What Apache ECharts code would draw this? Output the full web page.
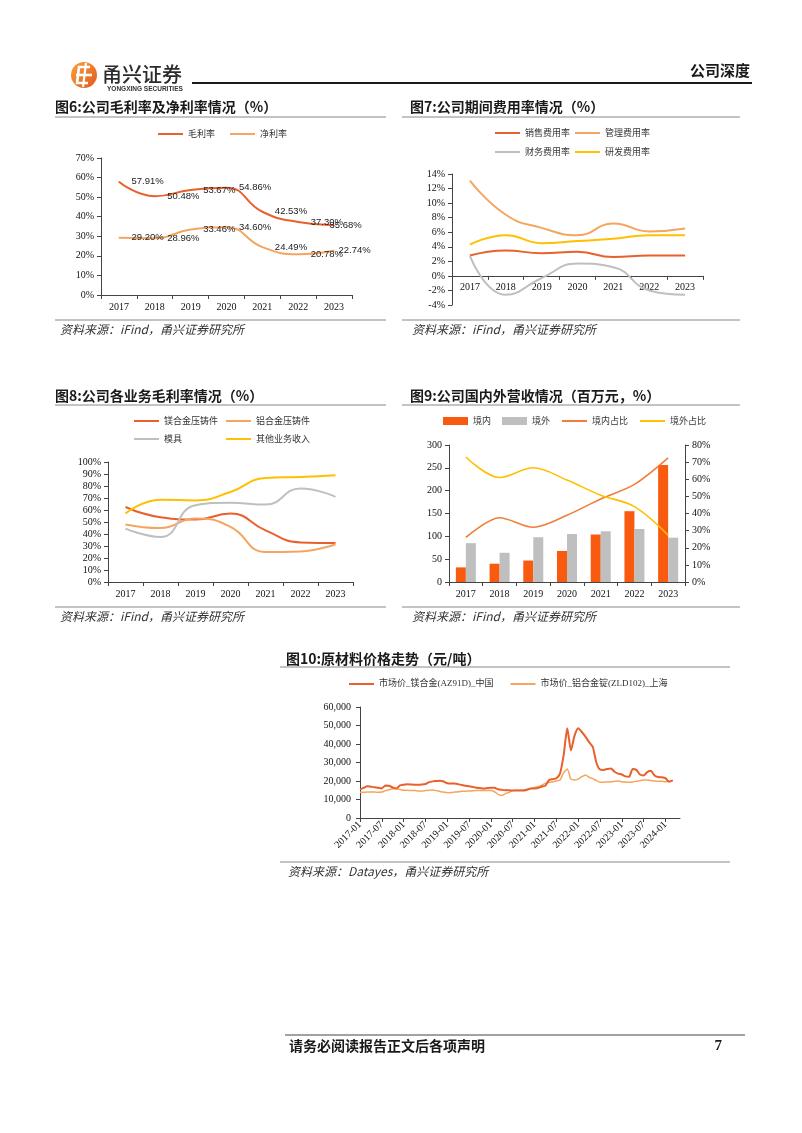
<!DOCTYPE html>
<html>
<head>
<meta charset="utf-8">
<script src="https://cdn.jsdelivr.net/npm/echarts@6/dist/echarts.min.js"></script>
<style>
html,body{margin:0;padding:0;background:#fff;}
#page{width:802px;height:1133px;}
</style>
</head>
<body>
<div id="page"></div>
<script>
// ---------- data ----------
const years = ['2017','2018','2019','2020','2021','2022','2023'];
// Fig 6
const grossMargin = [57.91, 50.48, 53.67, 54.86, 42.53, 37.30, 35.68];
const netMargin   = [29.20, 28.96, 33.46, 34.60, 24.49, 20.78, 22.74];
// Fig 7
const sellRate  = [2.8, 3.5, 3.1, 3.3, 2.6, 2.8, 2.8];
const adminRate = [13.1, 8.4, 6.6, 5.6, 7.2, 6.1, 6.5];
const finRate   = [2.7, -2.6, -0.3, 1.7, 1.2, -2.0, -2.6];
const rdRate    = [4.3, 5.6, 4.5, 4.8, 5.1, 5.6, 5.6];
// Fig 8
const mgCastMargin = [62.5, 54, 52, 57, 43, 33, 32.5];
const alCastMargin = [48, 45, 53, 46, 25, 25.5, 31.5];
const moldMargin   = [44.5, 37.5, 64, 66, 64.5, 78, 71];
const otherMargin  = [57, 68.6, 68, 75, 86.7, 87.5, 89];
// Fig 9
const domesticRev   = [32, 40, 47, 68, 104, 155, 256];
const overseasRev   = [85, 64, 98, 105, 111, 116, 97];
const domesticShare = [26, 37.5, 32, 39, 48.5, 57, 72.5];
const overseasShare = [73, 61, 66.7, 59.5, 50.7, 44, 27.3];
// Fig 10
const priceMonths = [];
for (let y = 2017; y <= 2024; y++) {
  for (let m = 1; m <= 12; m++) {
    if (y === 2024 && m > 5) break;
    priceMonths.push(y + '-' + String(m).padStart(2, '0'));
  }
}
const mgPrice = [15500,16300,17200,16900,16600,16400,16000,17600,17400,16500,16000,17600,
  18000,18200,18100,18000,18000,18100,18400,19400,19800,20000,20200,19700,
  18800,18600,18700,18300,17800,17400,17200,16800,16400,16200,16000,16200,
  16400,16300,15500,15200,15000,15000,14800,14800,14800,14800,15300,16000,
  16000,16200,17000,17500,20500,21000,21500,24000,34000,48500,36500,44500,
  48500,46500,44000,41000,38500,30000,26200,26000,26500,26800,25000,24000,
  23500,22500,22300,26500,26000,23500,23000,24800,25500,23000,22200,22000,
  21500,19600,20300];
const alPrice = [13900,13900,14000,14000,14000,13900,14000,14800,15300,15800,15800,15400,
  15000,15000,14800,14800,14600,14600,14800,15000,15100,14800,14300,14000,
  13700,13800,14000,14200,14400,14500,14600,14700,14800,14800,14800,14800,
  14800,14200,12800,12200,13200,13800,14800,15000,15000,15100,15500,16000,
  16500,17000,17800,18700,19300,19600,20000,20500,24500,26500,21000,20600,
  21000,22300,23200,22000,21300,20200,19300,19400,19500,19600,19800,20000,
  19600,19400,19300,19500,19800,20200,20500,20500,20300,20000,19900,19800,
  19600,19800,20300];

// ---------- styles ----------
const C_DARK = '#E8602C', C_LIGHT = '#F5A55F', C_GRAY = '#BFBFBF', C_YEL = '#FFC000';
const AX = '#444';
const SERIF = 'Liberation Serif';
const CJK = '"Noto Sans CJK SC"';

function catAxis(gi, data, extra) {
  return Object.assign({
    type: 'category', gridIndex: gi, data: data, boundaryGap: true,
    axisLine: { show: true, lineStyle: { color: AX, width: 1 } },
    axisTick: { show: true, length: 4, lineStyle: { color: AX } },
    axisLabel: { color: '#111', fontFamily: SERIF, fontSize: 10, margin: 7 },
    splitLine: { show: false }
  }, extra || {});
}
function valAxis(gi, min, max, interval, fmt, extra) {
  return Object.assign({
    type: 'value', gridIndex: gi, min: min, max: max, interval: interval,
    axisLine: { show: true, lineStyle: { color: AX, width: 1 } },
    axisTick: { show: true, length: 4, lineStyle: { color: AX } },
    axisLabel: { color: '#111', fontFamily: SERIF, fontSize: 10, margin: 7, formatter: fmt },
    splitLine: { show: false }
  }, extra || {});
}
function lineS(name, data, color, xi, yi, extra) {
  return Object.assign({
    name: name, type: 'line', data: data, xAxisIndex: xi, yAxisIndex: yi,
    smooth: true, symbol: 'none', lineStyle: { color: color, width: 2 },
    itemStyle: { color: color }, z: 3
  }, extra || {});
}
const legTxt = { fontFamily: CJK, fontSize: 9, color: '#333', lineHeight: 10 };
function leg(names, left, top, gap, extra) {
  return Object.assign({
    data: names, left: left, top: top, itemGap: gap, itemWidth: 25, itemHeight: 10,
    textStyle: legTxt, selectedMode: false, padding: 0,
    itemStyle: { opacity: 0 }
  }, extra || {});
}

// fig6 labels (last label nudged left, as in the source)
const lastShiftGross = -17, lastShiftNet = -8;
function labeled(arr, lastShift) {
  return arr.map((v, i) => i === arr.length - 1
    ? { value: v, label: { offset: [lastShift, 0] } } : v);
}
const lab6 = {
  show: true, position: 'right', distance: 12,
  formatter: p => Number(p.value).toFixed(2) + '%',
  fontFamily: 'Liberation Sans', fontSize: 9.5, color: '#222'
};

// ---------- graphics ----------
function txt(x, y, text, font, extra) {
  return { type: 'text', x: x, y: y, z: 10,
    style: Object.assign({ text: text, font: font, fill: '#1a1a1a', align: 'left', verticalAlign: 'middle' }, extra || {}) };
}
function hl(x1, x2, y, color, w) {
  return { type: 'line', z: 10, shape: { x1: x1, y1: y, x2: x2, y2: y }, style: { stroke: color || '#888', lineWidth: w || 1 } };
}
const titleFont = 'bold 14px ' + CJK;
const srcFont = 'italic 12px ' + CJK;

const graphics = [
  // logo
  { type: 'circle', z: 10, shape: { cx: 84, cy: 75, r: 13 },
    style: { fill: new echarts.graphic.LinearGradient(0, 0, 1, 1, [{offset:0,color:'#F7A33B'},{offset:1,color:'#E4571E'}]) } },
  { type: 'polyline', z: 11, shape: { points: [[90,67],[79,67],[77,83],[88,83]] }, style: { stroke: '#fff', lineWidth: 2.6, fill: null } },
  { type: 'line', z: 11, shape: { x1: 76, y1: 75, x2: 92, y2: 75 }, style: { stroke: '#fff', lineWidth: 2.6 } },
  { type: 'line', z: 11, shape: { x1: 86, y1: 63, x2: 83, y2: 87 }, style: { stroke: '#fff', lineWidth: 2.2 } },
  txt(102, 74, '甬兴证券', '500 20px ' + CJK, { fill: '#2b2b2b' }),
  txt(107, 89, 'YONGXING SECURITIES', 'bold 6.5px "Liberation Sans"', { fill: '#333' }),
  hl(192, 752, 83, '#1a1a1a', 2),
  txt(750, 70, '公司深度', 'bold 15px ' + CJK, { align: 'right' }),

  // fig 6
  txt(55, 107, '图6:公司毛利率及净利率情况（%）', titleFont),
  hl(55, 386, 117),
  hl(55, 386, 320),
  txt(60, 329, '资料来源：iFind，甬兴证券研究所', srcFont, { fill: '#333' }),
  // fig 7
  txt(410, 107, '图7:公司期间费用率情况（%）', titleFont),
  hl(402, 740, 117),
  hl(402, 740, 320),
  txt(412, 329, '资料来源：iFind，甬兴证券研究所', srcFont, { fill: '#333' }),
  // fig 8
  txt(55, 396, '图8:公司各业务毛利率情况（%）', titleFont),
  hl(55, 386, 405),
  hl(55, 386, 607),
  txt(60, 616, '资料来源：iFind，甬兴证券研究所', srcFont, { fill: '#333' }),
  // fig 9
  txt(410, 396, '图9:公司国内外营收情况（百万元，%）', titleFont),
  hl(402, 740, 405),
  hl(402, 740, 607),
  txt(412, 616, '资料来源：iFind，甬兴证券研究所', srcFont, { fill: '#333' }),
  // fig 10
  txt(286, 659, '图10:原材料价格走势（元/吨）', titleFont),
  hl(280, 730, 667),
  hl(280, 730, 862),
  txt(288, 871, '资料来源：Datayes，甬兴证券研究所', srcFont, { fill: '#333' }),
  // footer
  hl(285, 745, 1035, '#444', 1),
  txt(289, 1046, '请务必阅读报告正文后各项声明', 'bold 14px ' + CJK),
  txt(722, 1046, '7', 'bold 15px ' + SERIF, { align: 'right' })
];

// fig 7 x-axis sits on the zero line
const g7Top = 174, g7H = 131, y7Min = -4, y7Max = 14;
const zeroOffset7 = -(g7H * (0 - y7Min) / (y7Max - y7Min));

// ---------- option ----------
const option = {
  backgroundColor: '#fff',
  animation: false,
  graphic: graphics,
  grid: [
    { left: 101, top: 158, width: 251, height: 137 },
    { left: 452, top: g7Top, width: 251, height: g7H },
    { left: 108, top: 462, width: 245, height: 120 },
    { left: 449, top: 445, width: 236, height: 137 },
    { left: 360, top: 707, width: 320, height: 111 }
  ],
  legend: [
    leg(['毛利率', '净利率'], 157, 129, 14),
    leg(['销售费用率', '管理费用率'], 494, 128, 4),
    leg(['财务费用率', '研发费用率'], 494, 147, 4),
    leg(['镁合金压铸件', '铝合金压铸件'], 133, 416, 7),
    leg(['模具', '其他业务收入'], 133, 434, 43),
    leg([{ name: '境内', icon: 'rect', itemStyle: { opacity: 1 } },
         { name: '境外', icon: 'rect', itemStyle: { opacity: 1 } }, '境内占比', '境外占比'], 443, 416, 11, { itemHeight: 8 }),
    leg(['市场价_镁合金(AZ91D)_中国', '市场价_铝合金锭(ZLD102)_上海'], 348, 679, 16,
      { textStyle: Object.assign({}, legTxt, { fontFamily: SERIF + ',' + CJK }) })
  ],
  xAxis: [
    catAxis(0, years),
    catAxis(1, years, {
      offset: zeroOffset7,
      axisLine: { show: true, onZero: false, lineStyle: { color: AX, width: 1 } },
      axisLabel: { color: '#111', fontFamily: SERIF, fontSize: 10, margin: 6 }
    }),
    catAxis(2, years),
    catAxis(3, years),
    catAxis(4, priceMonths, {
      boundaryGap: false,
      axisTick: { show: true, length: 4, interval: 5, lineStyle: { color: AX } },
      axisLabel: { color: '#111', fontFamily: SERIF, fontSize: 10, margin: 5, rotate: 45, interval: 5 }
    })
  ],
  yAxis: [
    valAxis(0, 0, 70, 10, '{value}%'),
    valAxis(1, y7Min, y7Max, 2, '{value}%'),
    valAxis(2, 0, 100, 10, '{value}%'),
    valAxis(3, 0, 300, 50, '{value}'),
    valAxis(3, 0, 80, 10, '{value}%', { position: 'right' }),
    valAxis(4, 0, 60000, 10000, v => v.toLocaleString('en-US'), { axisLabel: { color: '#111', fontFamily: SERIF, fontSize: 10, margin: 9, formatter: v => v.toLocaleString('en-US') } })
  ],
  series: [
    // fig 6
    lineS('毛利率', labeled(grossMargin, lastShiftGross), C_DARK, 0, 0, { label: lab6, symbol: 'circle', symbolSize: 1, showSymbol: true }),
    lineS('净利率', labeled(netMargin, lastShiftNet), C_LIGHT, 0, 0, { label: lab6, symbol: 'circle', symbolSize: 1, showSymbol: true }),
    // fig 7
    lineS('销售费用率', sellRate, C_DARK, 1, 1),
    lineS('管理费用率', adminRate, C_LIGHT, 1, 1),
    lineS('财务费用率', finRate, C_GRAY, 1, 1),
    lineS('研发费用率', rdRate, C_YEL, 1, 1),
    // fig 8
    lineS('镁合金压铸件', mgCastMargin, C_DARK, 2, 2),
    lineS('铝合金压铸件', alCastMargin, C_LIGHT, 2, 2),
    lineS('模具', moldMargin, C_GRAY, 2, 2),
    lineS('其他业务收入', otherMargin, C_YEL, 2, 2),
    // fig 9
    { name: '境内', type: 'bar', data: domesticRev, xAxisIndex: 3, yAxisIndex: 3,
      barWidth: 10, barGap: '0%', itemStyle: { color: '#F85A10' } },
    { name: '境外', type: 'bar', data: overseasRev, xAxisIndex: 3, yAxisIndex: 3,
      barWidth: 10, barGap: '0%', itemStyle: { color: C_GRAY } },
    lineS('境内占比', domesticShare, '#F07E3A', 3, 4, { smooth: 0.3, lineStyle: { color: '#F07E3A', width: 1.6 } }),
    lineS('境外占比', overseasShare, C_YEL, 3, 4, { smooth: 0.35, lineStyle: { color: C_YEL, width: 1.6 } }),
    // fig 10
    lineS('市场价_镁合金(AZ91D)_中国', mgPrice, C_DARK, 4, 5, { smooth: 0.2, lineStyle: { color: C_DARK, width: 2 } }),
    lineS('市场价_铝合金锭(ZLD102)_上海', alPrice, C_LIGHT, 4, 5, { smooth: 0.2, lineStyle: { color: C_LIGHT, width: 1.5 }, z: 2 })
  ]
};

const chart = echarts.init(document.getElementById('page'), null, { renderer: 'canvas', width: 802, height: 1133 });
chart.setOption(option);
</script>
</body>
</html>
